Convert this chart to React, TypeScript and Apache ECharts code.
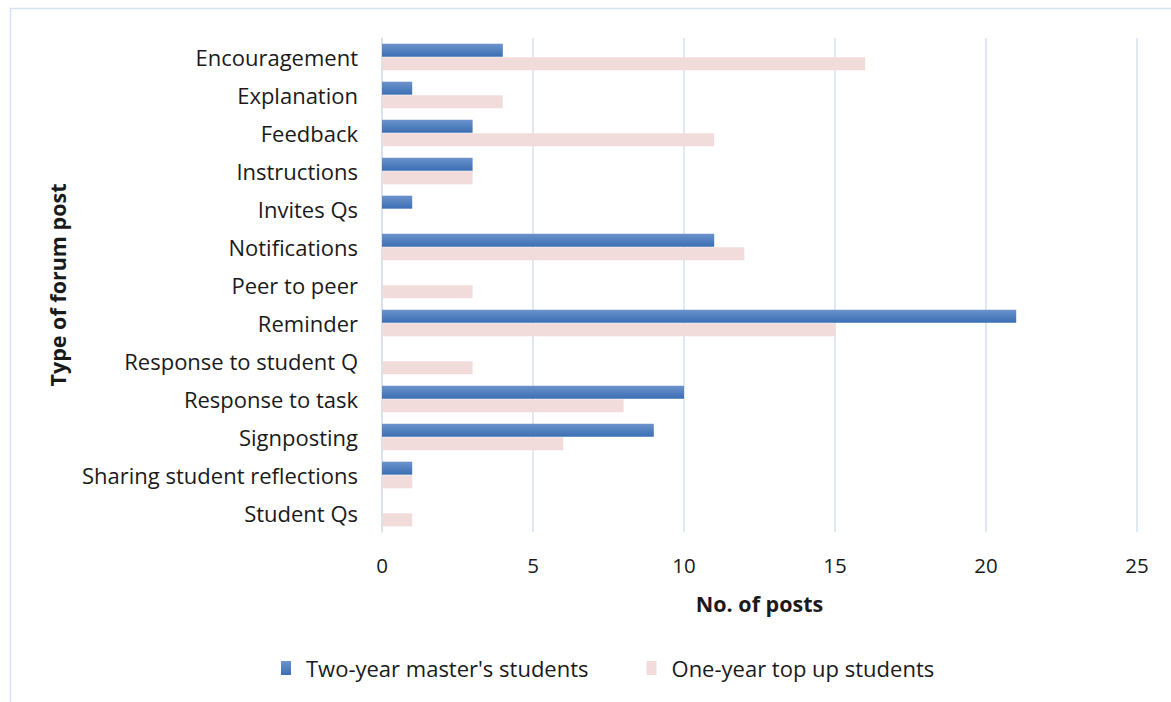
import React, { useEffect, useRef } from "react";
import * as echarts from "echarts";

const categories = [
  "Encouragement",
  "Explanation",
  "Feedback",
  "Instructions",
  "Invites Qs",
  "Notifications",
  "Peer to peer",
  "Reminder",
  "Response to student Q",
  "Response to task",
  "Signposting",
  "Sharing student reflections",
  "Student Qs",
];
const twoYear = [4, 1, 3, 3, 1, 11, 0, 21, 0, 10, 9, 1, 0];
const oneYear = [16, 4, 11, 3, 0, 12, 3, 15, 3, 8, 6, 1, 1];
const seriesNames = ["Two-year master's students", "One-year top up students"];
const xTicks = { min: 0, max: 25, interval: 5 };

const FONT = "Open Sans";

export default function App() {
  const ref = useRef<HTMLDivElement>(null);
  useEffect(() => {
    const chart = echarts.init(ref.current!, null, { renderer: "svg" });
    const blue = new echarts.graphic.LinearGradient(0, 0, 0, 1, [
      { offset: 0, color: "#6d93cc" },
      { offset: 1, color: "#3a6fb4" },
    ]);
    chart.setOption({
      animation: false,
      textStyle: { fontFamily: FONT },
      graphic: [
        {
          type: "rect",
          shape: { x: 10.5, y: 8.5, width: 1175, height: 700 },
          style: { fill: "none", stroke: "#d6e1f1", lineWidth: 1.5 },
          silent: true,
          z: -10,
        },
      ],
      legend: {
        data: seriesNames,
        bottom: 18,
        left: 276,
        itemWidth: 10,
        itemHeight: 14,
        itemGap: 58,
        icon: "rect",
        textStyle: { fontSize: 22, color: "#1a1a1a", fontFamily: FONT, padding: [0, 0, 0, 10] },
      },
      grid: { left: 382, right: 34, top: 38, bottom: 170 },
      xAxis: {
        type: "value",
        min: xTicks.min,
        max: xTicks.max,
        interval: xTicks.interval,
        name: "No. of posts",
        nameLocation: "middle",
        nameGap: 60,
        nameTextStyle: { fontSize: 21.5, fontWeight: "bold", color: "#1a1a1a" },
        axisLabel: { fontSize: 20.5, color: "#1a1a1a", margin: 22 },
        axisLine: { show: false },
        axisTick: { show: false },
        splitLine: { lineStyle: { color: "#d6e1f1", width: 1.5 } },
      },
      yAxis: {
        type: "category",
        data: categories,
        inverse: true,
        name: "Type of forum post",
        nameLocation: "middle",
        nameGap: 314,
        nameTextStyle: { fontSize: 21.5, fontWeight: "bold", color: "#1a1a1a" },
        axisLabel: { fontSize: 22, color: "#1a1a1a", margin: 24 },
        axisLine: { show: true, lineStyle: { color: "#d6e1f1", width: 1.5 } },
        axisTick: { show: false },
      },
      series: [
        {
          name: seriesNames[0],
          type: "bar",
          data: twoYear,
          barWidth: 13,
          barGap: "5%",
          itemStyle: { color: blue },
        },
        {
          name: seriesNames[1],
          type: "bar",
          data: oneYear,
          barWidth: 13,
          barGap: "5%",
          itemStyle: { color: "#f2dcdb" },
        },
      ],
    });
    return () => chart.dispose();
  }, []);
  return (
    <div
      ref={ref}
      style={{ position: "absolute", left: 0, top: 0, width: 1171, height: 702, background: "#fff" }}
    />
  );
}
